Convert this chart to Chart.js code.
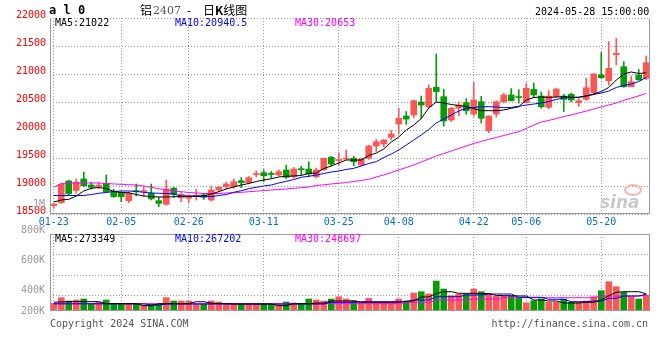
<!DOCTYPE html>
<html><head><meta charset="utf-8">
<script src="https://cdn.jsdelivr.net/npm/chart.js@4.4.1/dist/chart.umd.min.js"></script>
<style>
body{margin:0;background:#fff;width:660px;height:360px;overflow:hidden;position:relative;font-family:'DejaVu Sans Mono',monospace;}
canvas{position:absolute;left:0;}
.t{position:absolute;white-space:pre;font-size:10px;line-height:10px;font-family:'DejaVu Sans Mono',monospace;}
.cj{position:absolute;white-space:pre;font-size:12px;line-height:14px;font-family:'Noto Sans CJK SC',sans-serif;color:#000;top:3px;}
</style></head><body>
<canvas id="pc" style="top:0;width:660px;height:230px"></canvas>
<canvas id="vc" style="top:225px;width:660px;height:100px"></canvas>

<div class="t" style="left:49px;top:4px;font-size:12px;line-height:12px;font-weight:bold;color:#000">a l 0</div>
<div class="cj" style="left:140px">铝</div>
<div class="cj" style="left:153px;font-family:'DejaVu Serif',serif;font-size:11px;color:#555;top:4px">2407</div>
<div class="cj" style="left:187px">-</div>
<div class="cj" style="left:203px">日<b style="font-weight:bold">K</b>线图</div>
<div class="t" style="left:535px;top:7px;color:#000">2024-05-28 15:00:00</div>

<div class="t" style="left:55px;top:18px;color:#000">MA5:21022</div>
<div class="t" style="left:175px;top:18px;color:#0000ff">MA10:20940.5</div>
<div class="t" style="left:295px;top:18px;color:#ff00ff">MA30:20653</div>

<div class="t" style="right:615px;top:199px;color:#999">1M</div>
<div class="t" style="right:615px;top:225px;color:#999">800K</div>
<div class="t" style="right:615px;top:255px;color:#999">600K</div>
<div class="t" style="right:615px;top:285px;color:#999">400K</div>
<div class="t" style="right:615px;top:306px;color:#999">200K</div>

<div class="t" style="left:55px;top:234px;color:#000">MA5:273349</div>
<div class="t" style="left:175px;top:234px;color:#0000ff">MA10:267202</div>
<div class="t" style="left:295px;top:234px;color:#ff00ff">MA30:248697</div>

<div class="t" style="left:50px;top:319px;color:#555">Copyright 2024 SINA.COM</div>
<div class="t" style="right:12px;top:319px;color:#555">http://finance.sina.com.cn</div>

<div style="position:absolute;left:624px;top:184px;width:14px;height:8px;border:2px solid #f3b3b3;border-radius:50%"></div>
<div class="t" style="left:600px;top:194px;font-size:17px;line-height:17px;font-family:'DejaVu Sans',sans-serif;font-style:italic;font-weight:bold;color:#c9c9c9">sina</div>

<script>
const dates = ['01-23','01-24','01-25','01-26','01-29','01-30','01-31',
 '02-01','02-02','02-05','02-06','02-07','02-08','02-19','02-20','02-21','02-22','02-23','02-26','02-27','02-28','02-29',
 '03-01','03-04','03-05','03-06','03-07','03-08','03-11','03-12','03-13','03-14','03-15','03-18','03-19','03-20','03-21','03-22','03-25','03-26','03-27','03-28','03-29',
 '04-01','04-02','04-03','04-08','04-09','04-10','04-11','04-12','04-15','04-16','04-17','04-18','04-19','04-22','04-23','04-24','04-25','04-26','04-29','04-30',
 '05-06','05-07','05-08','05-09','05-10','05-13','05-14','05-15','05-16','05-17','05-20','05-21','05-22','05-23','05-24','05-27','05-28'];

const tickDates = ['01-23','02-05','02-26','03-11','03-25','04-08','04-22','05-06','05-20'];
const priceTicks = [18500,19000,19500,20000,20500,21000,21500,22000];

const open  = [18650,18700,19090,18920,19125,19018,18990,19048,18900,18887,18738,18915,18900,18870,18738,18673,18960,18790,18780,18815,
 18840,18750,18929,18988,18988,19095,19059,19205,19238,19226,19196,19286,19166,19309,19303,19166,19286,19512,19455,19480,
 19494,19375,19494,19714,19750,19870,20107,20250,20268,20500,20416,20762,20595,20179,20388,20488,20286,20506,19988,20286,
 20506,20625,20590,20488,20727,20607,20405,20595,20607,20637,20488,20548,20667,20982,20881,21345,21131,20774,20982,20923];
const high  = [18690,19040,19100,19125,19250,19066,19059,19197,18941,18900,18895,19036,18990,19036,18798,19107,18975,18890,18840,18940,
 18870,18990,19000,19070,19125,19150,19170,19270,19290,19260,19290,19375,19330,19350,19434,19320,19500,19530,19595,19643,
 19530,19500,19730,19830,19830,19990,20388,20330,20536,20607,20804,21358,20727,20400,20500,20560,20845,20600,20250,20520,
 20660,20740,20720,20830,20840,20680,20700,20740,20640,20660,20560,20923,21010,21382,21578,21637,21220,20960,21080,21322];
const low   = [18600,18690,18827,18870,18988,18941,18952,18887,18798,18720,18702,18820,18810,18750,18630,18655,18800,18720,18700,18750,
 18760,18730,18900,18950,18960,18970,19040,19160,19080,19140,19180,19135,19140,19200,19166,19140,19286,19360,19375,19470,
 19360,19360,19476,19620,19700,19830,19929,20100,20220,20209,20388,20506,20072,20150,20250,20280,20250,20125,19950,20230,
 20480,20518,20480,20480,20580,20390,20380,20580,20330,20500,20420,20530,20640,20920,20800,21161,20760,20774,20893,20900];
const close = [18675,19030,18860,19070,19005,18975,19015,18900,18810,18809,18870,18900,18910,18770,18690,18946,18850,18850,18820,18825,
 18800,18929,18977,19036,19077,19059,19149,19220,19184,19205,19256,19155,19303,19290,19214,19286,19494,19393,19470,19495,
 19434,19476,19714,19791,19822,19929,20209,20196,20524,20446,20745,20685,20161,20388,20446,20345,20536,20209,20250,20506,
 20625,20524,20580,20745,20625,20416,20607,20732,20548,20536,20524,20756,20999,20934,21101,21370,20774,20863,20893,21203];

const ma5  = [18714,18750,18762,18821,18911,18959,18973,18955,18902,18884,18880,18848,18821,18812,18804,18804,18807,18812,18816,18821,
 18825,18857,18898,18946,18982,19018,19045,19080,19107,19130,19161,19173,19179,19188,19227,19232,19312,19357,19411,19464,
 19464,19464,19545,19589,19661,19786,19875,20000,20089,20205,20393,20500,20482,20455,20437,20420,20384,20345,20345,20345,
 20357,20387,20416,20536,20580,20589,20584,20589,20595,20584,20584,20607,20643,20688,20759,20893,21000,21036,21009,21022];
const ma10 = [18830,18830,18830,18830,18830,18848,18870,18884,18902,18911,18911,18902,18887,18875,18870,18866,18857,18821,18821,18812,
 18809,18812,18830,18848,18887,18916,18952,18977,19000,19018,19054,19084,19116,19155,19173,19196,19223,19250,19268,19295,
 19316,19357,19402,19434,19509,19571,19643,19732,19821,19911,20009,20125,20196,20268,20339,20384,20402,20416,20416,20411,
 20398,20402,20423,20446,20464,20482,20509,20545,20571,20580,20584,20607,20634,20661,20696,20759,20795,20821,20866,20940];
const ma30 = [18977,19045,19048,19054,19054,19054,19054,19045,19036,19030,19023,19018,19000,18977,18952,18929,18911,18898,18884,18875,
 18866,18866,18866,18875,18880,18887,18898,18907,18920,18929,18937,18946,18959,18970,18982,19009,19021,19036,19048,19063,
 19080,19098,19120,19161,19196,19241,19286,19330,19375,19429,19482,19536,19580,19625,19670,19714,19759,19795,19834,19866,
 19902,19938,19970,20027,20089,20143,20170,20205,20241,20268,20304,20339,20375,20411,20446,20482,20530,20570,20610,20653];

const volume = [123000,213000,160000,176000,192000,123000,139000,176000,112000,112000,112000,112000,96000,112000,112000,213000,160000,160000,160000,112000,
 112000,160000,144000,112000,112000,112000,112000,112000,112000,112000,112000,144000,128000,112000,192000,176000,160000,192000,229000,192000,
 165000,139000,203000,139000,139000,139000,192000,139000,288000,309000,272000,480000,352000,245000,272000,272000,352000,309000,272000,235000,
 235000,235000,213000,133000,165000,192000,139000,139000,192000,139000,139000,160000,229000,325000,469000,389000,299000,229000,192000,255000];
const vma5 = [140000,145000,150000,150000,150000,150000,150000,117000,117000,117000,117000,117000,85000,85000,117000,117000,117000,117000,117000,149000,
 149000,125000,120000,117000,112000,112000,112000,112000,112000,112000,85000,85000,117000,117000,117000,128000,128000,160000,160000,160000,
 160000,139000,139000,139000,139000,139000,139000,160000,160000,224000,224000,280000,309000,309000,283000,283000,283000,280000,280000,250000,
 245000,245000,240000,240000,176000,176000,160000,160000,128000,128000,128000,139000,139000,176000,245000,300000,309000,309000,309000,273349];
const vma10 = [115000,115000,115000,115000,115000,115000,115000,115000,115000,115000,115000,115000,115000,96000,96000,112000,112000,112000,112000,112000,
 112000,112000,112000,112000,112000,112000,112000,112000,112000,112000,112000,112000,112000,112000,112000,112000,112000,139000,139000,139000,
 139000,149000,149000,149000,149000,149000,149000,149000,176000,176000,176000,229000,229000,229000,229000,256000,256000,256000,272000,272000,
 272000,272000,219000,219000,219000,219000,187000,187000,187000,149000,149000,149000,160000,160000,203000,203000,240000,240000,240000,267202];
const vma30 = [117000,117000,117000,117000,117000,117000,117000,117000,117000,117000,117000,117000,117000,117000,117000,117000,117000,117000,117000,117000,
 117000,117000,117000,117000,117000,117000,117000,117000,117000,117000,117000,117000,117000,117000,117000,117000,117000,117000,117000,117000,
 117000,117000,117000,117000,117000,117000,117000,139000,139000,139000,139000,176000,176000,176000,176000,176000,192000,192000,192000,192000,
 213000,213000,213000,213000,213000,213000,213000,213000,213000,213000,213000,213000,213000,240000,240000,240000,240000,240000,240000,248697];

const RED = '#fa5757', GREEN = '#089a08';
const FONT = {family:"'DejaVu Sans Mono', monospace", size:10};
const colors = close.map((c,i)=> c>=open[i] ? RED : GREEN);
const showTick = i => tickDates.includes(dates[i]);
const GRID = '#999999';
const NONE = 'rgba(0,0,0,0)';

function boxPlugin(sides){
  return {id:'box'+sides, afterDraw(chart){
    const {ctx, chartArea:a} = chart;
    ctx.save(); ctx.strokeStyle='#999'; ctx.lineWidth=1; ctx.beginPath();
    const L=a.left+0.5, R=a.right-0.5, T=a.top+0.5, B=a.bottom-0.5;
    if(sides.includes('l')){ctx.moveTo(L,T);ctx.lineTo(L,B);}
    if(sides.includes('r')){ctx.moveTo(R,T);ctx.lineTo(R,B);}
    if(sides.includes('b')){ctx.moveTo(L,B);ctx.lineTo(R,B);}
    if(sides.includes('t')){ctx.moveTo(L,T);ctx.lineTo(R,T);}
    ctx.stroke(); ctx.restore();
  }};
}

const lineDs = (data,color)=>({type:'line',data,borderColor:color,borderWidth:1,pointRadius:0,tension:0,order:0,fill:false});

new Chart(document.getElementById('pc'), {
  type:'bar',
  data:{labels:dates, datasets:[
    lineDs(ma5,'#000000'), lineDs(ma10,'#0000ff'), lineDs(ma30,'#ff00ff'),
    {data:open.map((o,i)=>[o,close[i]]), backgroundColor:colors, barThickness:6, grouped:false, minBarLength:1, order:1},
    {data:low.map((l,i)=>[l,high[i]]), backgroundColor:colors, barThickness:1, grouped:false, order:2}
  ]},
  options:{responsive:false, animation:false, events:[],
    plugins:{legend:{display:false}, tooltip:{enabled:false}},
    layout:{padding:{top:18,right:10,left:0,bottom:0}},
    scales:{
      x:{offset:true,
         grid:{offset:false, drawTicks:false, color:c=>showTick(c.index)?GRID:NONE},
         border:{display:false, dash:[1,2]},
         ticks:{autoSkip:false, maxRotation:0, color:'#0a6fc2', font:FONT, padding:2,
                callback:(v,i)=> showTick(i) ? dates[i] : ''},
         afterFit:s=>{s.height=16;}},
      y:{min:priceTicks[0], max:priceTicks[priceTicks.length-1],
         afterBuildTicks:s=>{s.ticks=priceTicks.map(v=>({value:v}));},
         grid:{drawTicks:false, color:GRID},
         border:{display:false, dash:[1,2]},
         ticks:{color:'#ff0000', font:FONT, padding:4, labelOffset:-3, callback:v=>String(v)},
         afterFit:s=>{s.width=50;}}
    }
  },
  plugins:[boxPlugin('lrb')]
});

const VOL_MAX = 1232000, VOL_GRID = 328000;
new Chart(document.getElementById('vc'), {
  type:'bar',
  data:{labels:dates, datasets:[
    lineDs(vma5,'#000000'), lineDs(vma10,'#0000ff'), lineDs(vma30,'#ff00ff'),
    {data:volume, backgroundColor:colors, barThickness:6, grouped:false, order:1}
  ]},
  options:{responsive:false, animation:false, events:[],
    plugins:{legend:{display:false}, tooltip:{enabled:false}},
    layout:{padding:{top:9,right:10,left:0,bottom:14}},
    scales:{
      x:{offset:true,
         grid:{offset:false, drawTicks:false, color:c=>showTick(c.index)?GRID:NONE},
         border:{display:false, dash:[1,2]},
         ticks:{autoSkip:false, maxRotation:0, color:NONE, font:FONT, padding:0, callback:()=>''},
         afterFit:s=>{s.height=0;}},
      y:{min:0, max:VOL_MAX,
         afterBuildTicks:s=>{s.ticks=[0,1,2,3].map(k=>({value:VOL_MAX-k*VOL_GRID}));},
         grid:{drawTicks:false, color:GRID},
         border:{display:false, dash:[1,2]},
         ticks:{color:NONE, font:FONT, padding:0, callback:()=>''},
         afterFit:s=>{s.width=50;}}
    }
  },
  plugins:[boxPlugin('lrbt')]
});
</script>
</body></html>
